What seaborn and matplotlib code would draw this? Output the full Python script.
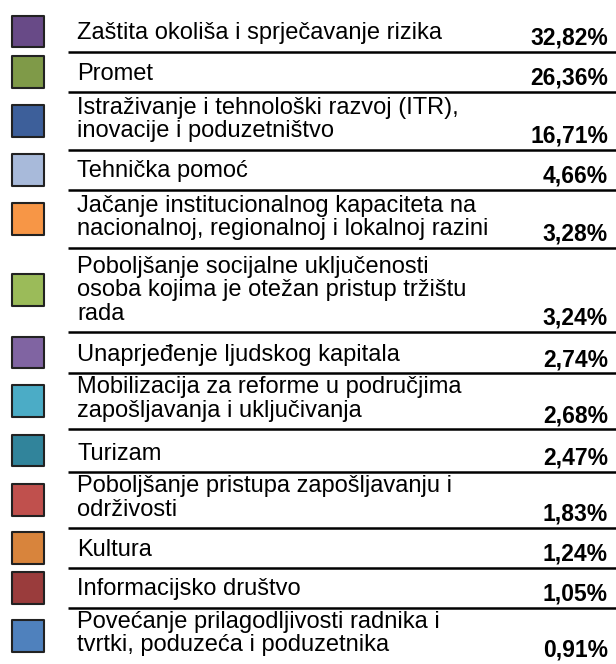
import matplotlib
matplotlib.use("Agg")
import matplotlib.pyplot as plt
from matplotlib import font_manager as fm
import seaborn as sns
import pandas as pd
import numpy as np

categories = [
    "Zaštita okoliša i sprječavanje rizika",
    "Promet",
    "Istraživanje i tehnološki razvoj (ITR), inovacije i poduzetništvo",
    "Tehnička pomoć",
    "Jačanje institucionalnog kapaciteta na nacionalnoj, regionalnoj i lokalnoj razini",
    "Poboljšanje socijalne uključenosti osoba kojima je otežan pristup tržištu rada",
    "Unaprjeđenje ljudskog kapitala",
    "Mobilizacija za reforme u područjima zapošljavanja i uključivanja",
    "Turizam",
    "Poboljšanje pristupa zapošljavanju i održivosti",
    "Kultura",
    "Informacijsko društvo",
    "Povećanje prilagodljivosti radnika i tvrtki, poduzeća i poduzetnika",
]
label_lines = [
    ["Zaštita okoliša i sprječavanje rizika"],
    ["Promet"],
    ["Istraživanje i tehnološki razvoj (ITR),", "inovacije i poduzetništvo"],
    ["Tehnička pomoć"],
    ["Jačanje institucionalnog kapaciteta na", "nacionalnoj, regionalnoj i lokalnoj razini"],
    ["Poboljšanje socijalne uključenosti", "osoba kojima je otežan pristup tržištu", "rada"],
    ["Unaprjeđenje ljudskog kapitala"],
    ["Mobilizacija za reforme u područjima", "zapošljavanja i uključivanja"],
    ["Turizam"],
    ["Poboljšanje pristupa zapošljavanju i", "održivosti"],
    ["Kultura"],
    ["Informacijsko društvo"],
    ["Povećanje prilagodljivosti radnika i", "tvrtki, poduzeća i poduzetnika"],
]
shares = [32.82, 26.36, 16.71, 4.66, 3.28, 3.24, 2.74, 2.68, 2.47, 1.83, 1.24, 1.05, 0.91]
colors = ["#684A87", "#7F9A48", "#3D5F9A", "#A8BADA", "#F79646", "#9BBB59", "#8064A2",
          "#4BACC6", "#31849B", "#C0504D", "#D8843C", "#9A3C3C", "#4F81BD"]

# layout: row heights in pixels (table rows)
row_heights = [41, 40, 58, 40, 58, 84, 41, 56, 43, 56, 40, 40, 56]

sns.set_theme(style="white")
plt.rcParams['font.family'] = ['Liberation Sans', 'DejaVu Sans']


def find_font(fname):
    for p in fm.findSystemFonts():
        if p.endswith(fname):
            return p
    return None


reg_path = find_font("LiberationSans-Regular.ttf")
bold_path = find_font("LiberationSans-Bold.ttf")
fp_reg = fm.FontProperties(fname=reg_path, size=17) if reg_path else fm.FontProperties(family="Liberation Sans", size=17)
fp_bold = fm.FontProperties(fname=bold_path, size=16.5) if bold_path else fm.FontProperties(family="Liberation Sans", weight="bold", stretch="normal", size=16.5)

fig = plt.figure(figsize=(6.16, 6.64), dpi=100)
ax = fig.add_axes([0, 0, 1, 1])

heights = np.array(row_heights, dtype=float)
bottoms = np.cumsum(heights) + 11
tops = bottoms - heights
centers = (tops + bottoms) / 2

df = pd.DataFrame({"category": categories, "y": centers, "x": 28.0})
sns.scatterplot(data=df, x="x", y="y", hue="category", palette=colors,
                marker="s", s=520, edgecolor="#222222", linewidth=1.5,
                legend=False, ax=ax, zorder=3)

ax.hlines(bottoms[:-1], 68, 616, color="black", linewidth=1.8)

for lines, b, v in zip(label_lines, bottoms, shares):
    n = len(lines)
    for i, t in enumerate(lines):
        y = b - 12.5 - (n - 1 - i) * 23.5
        ax.text(77, y, t, ha="left", va="baseline", fontproperties=fp_reg, color="black")
    ax.text(608, b - 7, f"{v:.2f}".replace(".", ",") + "%", ha="right",
            va="baseline", fontproperties=fp_bold, color="black")

ax.set_xlim(0, 616)
ax.set_ylim(664, 0)
ax.axis("off")
fig.savefig("out.png", dpi=100)
